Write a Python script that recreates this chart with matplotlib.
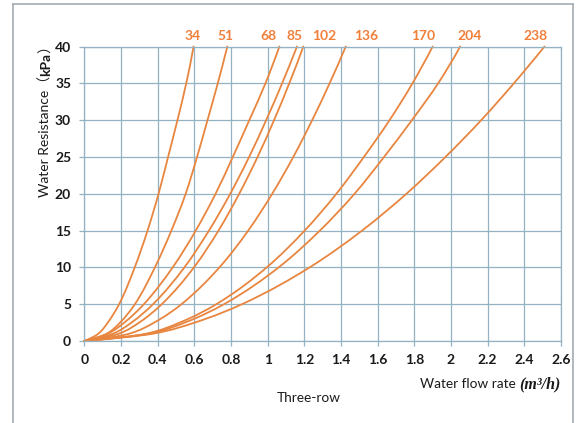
import matplotlib
matplotlib.use("Agg")
import numpy as np
import matplotlib.pyplot as plt
from matplotlib.lines import Line2D
from matplotlib.path import Path
from matplotlib.patches import PathPatch

# ---------------- data ----------------
resistance_kpa = [0, 1, 2.5, 5, 10, 15, 20, 25, 30, 35, 40]

flow_34 = [0, 0.077, 0.128, 0.19, 0.275, 0.345, 0.405, 0.457, 0.508, 0.556, 0.596]
flow_51 = [0, 0.123, 0.195, 0.276, 0.385, 0.475, 0.553, 0.615, 0.672, 0.728, 0.78]
flow_68 = [0, 0.129, 0.218, 0.325, 0.482, 0.608, 0.716, 0.81, 0.90, 0.988, 1.064]
flow_85 = [0, 0.157, 0.257, 0.375, 0.546, 0.68, 0.796, 0.899, 0.992, 1.079, 1.16]
flow_102 = [0, 0.189, 0.299, 0.4225, 0.598, 0.732, 0.845, 0.945, 1.035, 1.118, 1.195]
flow_136 = [0, 0.246, 0.381, 0.53, 0.737, 0.894, 1.025, 1.14, 1.243, 1.338, 1.426]
flow_170 = [0, 0.339, 0.52, 0.72, 0.995, 1.202, 1.375, 1.525, 1.665, 1.79, 1.90]
flow_204 = [0, 0.354, 0.548, 0.762, 1.06, 1.285, 1.474, 1.635, 1.787, 1.93, 2.05]
flow_238 = [0, 0.3755, 0.602, 0.86, 1.229, 1.515, 1.757, 1.97, 2.165, 2.343, 2.51]

curve_flows = [flow_34, flow_51, flow_68, flow_85, flow_102,
               flow_136, flow_170, flow_204, flow_238]

curve_labels = ["34", "51", "68", "85", "102", "136", "170", "204", "238"]
curve_label_x = [0.591, 0.771, 1.004, 1.149, 1.307, 1.537, 1.849, 2.104, 2.463]

x_ticks = [0, 0.2, 0.4, 0.6, 0.8, 1.0, 1.2, 1.4, 1.6, 1.8, 2.0, 2.2, 2.4, 2.6]
x_tick_labels = ["0", "0.2", "0.4", "0.6", "0.8", "1", "1.2", "1.4", "1.6",
                 "1.8", "2", "2.2", "2.4", "2.6"]
y_ticks = [0, 5, 10, 15, 20, 25, 30, 35, 40]
y_tick_labels = ["0", "5", "10", "15", "20", "25", "30", "35", "40"]

# ---------------- style ----------------
W, H = 578, 423
ORANGE = "#e8853f"
LABEL_ORANGE = "#f07f3a"
GRID = "#93b3c3"
TXT = "#1a1a1a"
FONT = ["Lato", "Noto Sans CJK SC", "DejaVu Sans"]

plt.rcParams["font.family"] = FONT

fig = plt.figure(figsize=(W / 100, H / 100), dpi=100)
fig.patch.set_facecolor("white")

ax_left, ax_right = 84.3, 561.0
ax_top, ax_bottom = 46.5, 341.0
ax = fig.add_axes([ax_left / W, 1 - ax_bottom / H,
                   (ax_right - ax_left) / W, (ax_bottom - ax_top) / H])

ax.set_xlim(0, 2.6)
ax.set_ylim(0, 40)
ax.set_xticks(x_ticks)
ax.set_xticklabels(x_tick_labels)
ax.set_yticks(y_ticks)
ax.set_yticklabels(y_tick_labels)
ax.grid(True, color=GRID, lw=0.9)
ax.set_axisbelow(True)
for sp in ax.spines.values():
    sp.set_color(GRID)
    sp.set_linewidth(0.9)
ax.tick_params(axis="both", colors=GRID, length=3.5, width=0.9,
               labelcolor=TXT, labelsize=10)
ax.tick_params(axis="x", pad=5.5)
ax.tick_params(axis="y", pad=6)
for lab in ax.get_xticklabels() + ax.get_yticklabels():
    lab.set_fontweight("bold")


def pchip_slopes(t, v):
    t = np.asarray(t, float)
    v = np.asarray(v, float)
    h = np.diff(t)
    d = np.diff(v) / h
    m = np.zeros_like(v)
    for k in range(1, len(v) - 1):
        if d[k - 1] * d[k] <= 0:
            m[k] = 0.0
        else:
            w1 = 2 * h[k] + h[k - 1]
            w2 = h[k] + 2 * h[k - 1]
            m[k] = (w1 + w2) / (w1 / d[k - 1] + w2 / d[k])
    m0 = ((2 * h[0] + h[1]) * d[0] - h[0] * d[1]) / (h[0] + h[1])
    if np.sign(m0) != np.sign(d[0]):
        m0 = 0.0
    elif np.sign(d[0]) != np.sign(d[1]) and abs(m0) > abs(3 * d[0]):
        m0 = 3 * d[0]
    m[0] = m0
    mn = ((2 * h[-1] + h[-2]) * d[-1] - h[-1] * d[-2]) / (h[-1] + h[-2])
    if np.sign(mn) != np.sign(d[-1]):
        mn = 0.0
    elif np.sign(d[-1]) != np.sign(d[-2]) and abs(mn) > abs(3 * d[-1]):
        mn = 3 * d[-1]
    m[-1] = mn
    return m


def smooth_curve_path(flows, res):
    # flow as a smooth (cubic Hermite / Bezier) function of resistance
    y = np.asarray(res, float)
    x = np.asarray(flows, float)
    m = pchip_slopes(y, x)
    verts = [(x[0], y[0])]
    codes = [Path.MOVETO]
    for k in range(len(y) - 1):
        hk = y[k + 1] - y[k]
        verts += [(x[k] + m[k] * hk / 3, y[k] + hk / 3),
                  (x[k + 1] - m[k + 1] * hk / 3, y[k + 1] - hk / 3),
                  (x[k + 1], y[k + 1])]
        codes += [Path.CURVE4] * 3
    return Path(verts, codes)


for flows in curve_flows:
    patch = PathPatch(smooth_curve_path(flows, resistance_kpa), facecolor="none",
                      edgecolor=ORANGE, lw=1.3, clip_on=False,
                      transform=ax.transData, capstyle="round")
    ax.add_patch(patch)

for lab, lx in zip(curve_labels, curve_label_x):
    ax.annotate(lab, xy=(lx, 40), xytext=(0, 7.5), textcoords="offset points",
                ha="center", va="center", color=LABEL_ORANGE,
                fontsize=10, fontweight="bold", annotation_clip=False)

renderer = fig.canvas.get_renderer()


def text_width(s, **kw):
    t = fig.text(0, 0, s, **kw)
    w = t.get_window_extent(renderer).width
    t.remove()
    return w


# y label: "Water Resistance（kPa）" reading upward, spanning ~158 px
ylab_parts = [("Water Resistance（", dict(family=FONT)),
              ("kPa", dict(family=FONT, fontweight="bold")),
              ("）", dict(family=FONT))]
ref_size = 10.0
ref_len = sum(text_width(s, fontsize=ref_size, **kw) for s, kw in ylab_parts)
ylab_size = ref_size * 158.0 / ref_len
base_x = 50.0
cur_y = H - 197.0
for s, kw in ylab_parts:
    fig.text(base_x / W, cur_y / H, s, rotation=90, rotation_mode="anchor",
             ha="left", va="baseline", color=TXT, fontsize=ylab_size, **kw)
    cur_y += text_width(s, fontsize=ylab_size, **kw)

# x label: "Water flow rate (m³/h)" right-aligned at the axis end
xlab_parts = [("Water flow rate ", dict(family=FONT, fontsize=9.8)),
              ("(m³/h)", dict(family=["Liberation Serif", "DejaVu Serif"],
                              fontsize=11.5, fontweight="bold", style="italic"))]
total = sum(text_width(s, **kw) for s, kw in xlab_parts)
cur_x = ax_right - total
base_y = H - 388.0
for s, kw in xlab_parts:
    fig.text(cur_x / W, base_y / H, s, ha="left", va="baseline", color=TXT, **kw)
    cur_x += text_width(s, **kw)

fig.text(309 / W, (H - 402.0) / H, "Three-row", ha="center", va="baseline",
         color=TXT, fontsize=9.8)

# outer frame
FRAME = "#a3abb3"
fig.add_artist(Line2D([13 / W, 13 / W], [0, 1 - 4 / H], color=FRAME, lw=1.2,
                      transform=fig.transFigure))
fig.add_artist(Line2D([13 / W, 573 / W], [1 - 4 / H, 1 - 4 / H], color=FRAME,
                      lw=1.2, transform=fig.transFigure))
fig.add_artist(Line2D([573 / W, 573 / W], [0, 1 - 4 / H], color=FRAME, lw=1.2,
                      transform=fig.transFigure))

fig.savefig("out.png", dpi=100)
